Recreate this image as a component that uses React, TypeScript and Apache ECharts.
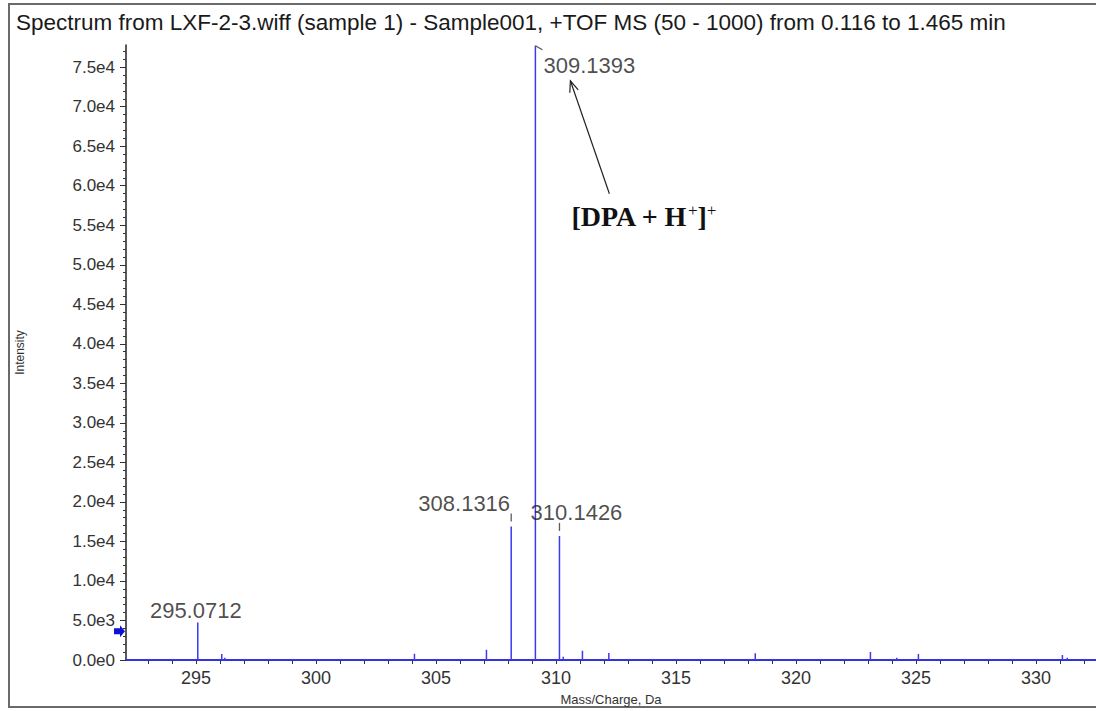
import React, { useEffect, useRef } from "react";
import * as echarts from "echarts";

const titleText =
  "Spectrum from LXF-2-3.wiff (sample 1) - Sample001, +TOF MS (50 - 1000) from 0.116 to 1.465 min";
const xAxisName = "Mass/Charge, Da";
const yAxisName = "Intensity";

const xMin = 292.08;
const xMax = 332.5;
const yMin = 0;
const yMax = 77800;

const peakMz = [295.0712, 296.07, 296.2, 304.1, 307.1, 308.1316, 309.1393, 310.1426, 310.3, 311.1, 312.2, 318.3, 323.1, 324.2, 325.1, 331.1, 331.3];
const peakIntensity = [4750, 750, 300, 800, 1300, 16900, 77700, 15700, 400, 1170, 880, 850, 1000, 300, 750, 630, 300];

const labelMz = [295.0712, 308.1316, 309.1393, 310.1426];
const labelIntensity = [4750, 16900, 77700, 15700];
const labelText = ["295.0712", "308.1316", "309.1393", "310.1426"];
const labelOffsets = [[-2, -12], [-47, -23], [54, 20], [17, -23]];
const tickMarkMz = [308.1316, 310.1426];
const tickMarkIntensity = [16900, 15700];

const xMajorTicks = [295, 300, 305, 310, 315, 320, 325, 330];
const xMinorTicks = [293, 294, 295, 296, 297, 298, 299, 300, 301, 302, 303, 304, 305, 306, 307, 308, 309, 310, 311, 312, 313, 314, 315, 316, 317, 318, 319, 320, 321, 322, 323, 324, 325, 326, 327, 328, 329, 330, 331, 332];
const yMajorTicks = [0, 5000, 10000, 15000, 20000, 25000, 30000, 35000, 40000, 45000, 50000, 55000, 60000, 65000, 70000, 75000];
const yMinorTicks: number[] = [];
for (let v = 0; v <= 77000; v += 1000) yMinorTicks.push(v);

const markerIntensity = 3650;

const FONT = "'Liberation Sans', Arial, sans-serif";
const SERIF = "'Liberation Serif', 'Times New Roman', serif";

function fmtY(v: number) {
  if (v === 0) return "0.0e0";
  const exp = Math.floor(Math.log10(v));
  const m = v / Math.pow(10, exp);
  return m.toFixed(1) + "e" + exp;
}

export default function App() {
  const ref = useRef<HTMLDivElement>(null);
  useEffect(() => {
    if (!ref.current) return;
    const chart = echarts.init(ref.current, undefined, { renderer: "svg" });

    const lineData: number[][] = [[xMin, 0]];
    const order = peakMz.map((_, i) => i).sort((a, b) => peakMz[a] - peakMz[b]);
    order.forEach((i) => {
      lineData.push([peakMz[i], 0], [peakMz[i], peakIntensity[i]], [peakMz[i], 0]);
    });
    lineData.push([xMax, 0]);

    chart.setOption({
      animation: false,
      backgroundColor: "#ffffff",
      title: {
        text: titleText,
        left: 11,
        top: 6,
        textStyle: { fontFamily: FONT, fontSize: 22.5, fontWeight: "normal", color: "#1a1a1a" },
      },
      grid: { left: 126, top: 45, right: 0, bottom: 44 },
      xAxis: [
        {
          type: "value",
          min: xMin,
          max: xMax,
          name: xAxisName,
          nameLocation: "middle",
          nameGap: 33,
          nameTextStyle: { fontFamily: FONT, fontSize: 13, color: "#333" },
          axisLine: { show: true, lineStyle: { color: "#2626d9", width: 2 } },
          axisTick: { show: true, customValues: xMinorTicks, length: 4, lineStyle: { color: "#333", width: 1 } },
          axisLabel: { customValues: xMajorTicks, fontFamily: FONT, fontSize: 18, color: "#333", margin: 9 },
          splitLine: { show: false },
        },
      ],
      yAxis: [
        {
          type: "value",
          min: yMin,
          max: yMax,
          name: yAxisName,
          nameLocation: "middle",
          nameRotate: 90,
          nameGap: 100,
          nameTextStyle: { fontFamily: FONT, fontSize: 12, color: "#333" },
          axisLine: { show: true, lineStyle: { color: "#222", width: 1.5 } },
          axisTick: { show: true, customValues: yMajorTicks, length: 6, lineStyle: { color: "#333", width: 1 } },
          axisLabel: { customValues: yMajorTicks, formatter: fmtY, fontFamily: FONT, fontSize: 17, color: "#333", margin: 11 },
          splitLine: { show: false },
        },
        {
          type: "value",
          min: yMin,
          max: yMax,
          position: "left",
          axisLine: { show: false },
          axisTick: { show: true, customValues: yMinorTicks, length: 3, lineStyle: { color: "#333", width: 1 } },
          axisLabel: { show: false },
          splitLine: { show: false },
        },
      ],
      series: [
        {
          type: "line",
          data: lineData,
          symbol: "none",
          lineStyle: { color: "#3a3af0", width: 1.5 },
          clip: true,
          z: 3,
        },
        {
          type: "scatter",
          data: labelMz.map((m, i) => ({
            value: [m, labelIntensity[i]],
            label: {
              show: true,
              position: "inside",
              offset: labelOffsets[i],
              formatter: labelText[i],
            },
          })),
          symbolSize: 1,
          itemStyle: { color: "rgba(0,0,0,0)" },
          label: { fontFamily: FONT, fontSize: 22, color: "#1e1e1e" },
          z: 5,
        },
        {
          type: "scatter",
          data: tickMarkMz.map((m, i) => [m, tickMarkIntensity[i]]),
          symbol: "rect",
          symbolSize: [1.3, 8],
          symbolOffset: [0, -9],
          itemStyle: { color: "#333" },
          z: 5,
        },
      ],
    });

    const p = (x: number, y: number) => chart.convertToPixel({ gridIndex: 0 }, [x, y]) as number[];
    const marker = p(xMin, markerIntensity);
    const topPeak = p(labelMz[2], labelIntensity[2]);
    const arrowTip = [topPeak[0] + 35, topPeak[1] + 35];
    const arrowTail = [arrowTip[0] + 39, arrowTip[1] + 113];
    const ang = Math.atan2(arrowTail[1] - arrowTip[1], arrowTail[0] - arrowTip[0]);
    const ah = 12;
    const spread = 0.38;
    const a1 = [arrowTip[0] + ah * Math.cos(ang + spread), arrowTip[1] + ah * Math.sin(ang + spread)];
    const a2 = [arrowTip[0] + ah * Math.cos(ang - spread), arrowTip[1] + ah * Math.sin(ang - spread)];

    chart.setOption({
      graphic: [
        {
          type: "rect",
          shape: { x: 9, y: 4, width: 1200, height: 703 },
          style: { fill: "none", stroke: "#6a6a6a", lineWidth: 2 },
          silent: true,
        },
        {
          type: "polygon",
          shape: {
            points: [
              [marker[0] - 12, marker[1] - 3],
              [marker[0] - 6, marker[1] - 3],
              [marker[0] - 6, marker[1] - 6],
              [marker[0] - 1, marker[1]],
              [marker[0] - 6, marker[1] + 6],
              [marker[0] - 6, marker[1] + 3],
              [marker[0] - 12, marker[1] + 3],
            ],
          },
          style: { fill: "#1010d0" },
          z: 10,
        },
        {
          type: "line",
          shape: { x1: topPeak[0], y1: topPeak[1], x2: topPeak[0] + 7, y2: topPeak[1] + 4 },
          style: { stroke: "#555", lineWidth: 1.2 },
          z: 10,
        },
        {
          type: "line",
          shape: { x1: arrowTail[0], y1: arrowTail[1], x2: arrowTip[0], y2: arrowTip[1] },
          style: { stroke: "#222", lineWidth: 1.2 },
          z: 10,
        },
        {
          type: "polyline",
          shape: { points: [a1, arrowTip, a2] },
          style: { stroke: "#222", lineWidth: 1.2, fill: "none" },
          z: 10,
        },
        {
          type: "text",
          x: arrowTail[0] - 38,
          y: arrowTail[1] + 8,
          style: {
            text: "{b|[DPA + H}{s|+}{b|]}{s|+}",
            rich: {
              b: { fontFamily: SERIF, fontSize: 28, fontWeight: "bold", fill: "#111" },
              s: { fontFamily: SERIF, fontSize: 17, fill: "#111", verticalAlign: "top", padding: [0, 0, 12, 0] },
            },
            fill: "#111",
          },
          z: 10,
        },
      ],
    });

    return () => chart.dispose();
  }, []);
  return <div ref={ref} style={{ position: "fixed", left: 0, top: 0, width: 1096, height: 711 }} />;
}
